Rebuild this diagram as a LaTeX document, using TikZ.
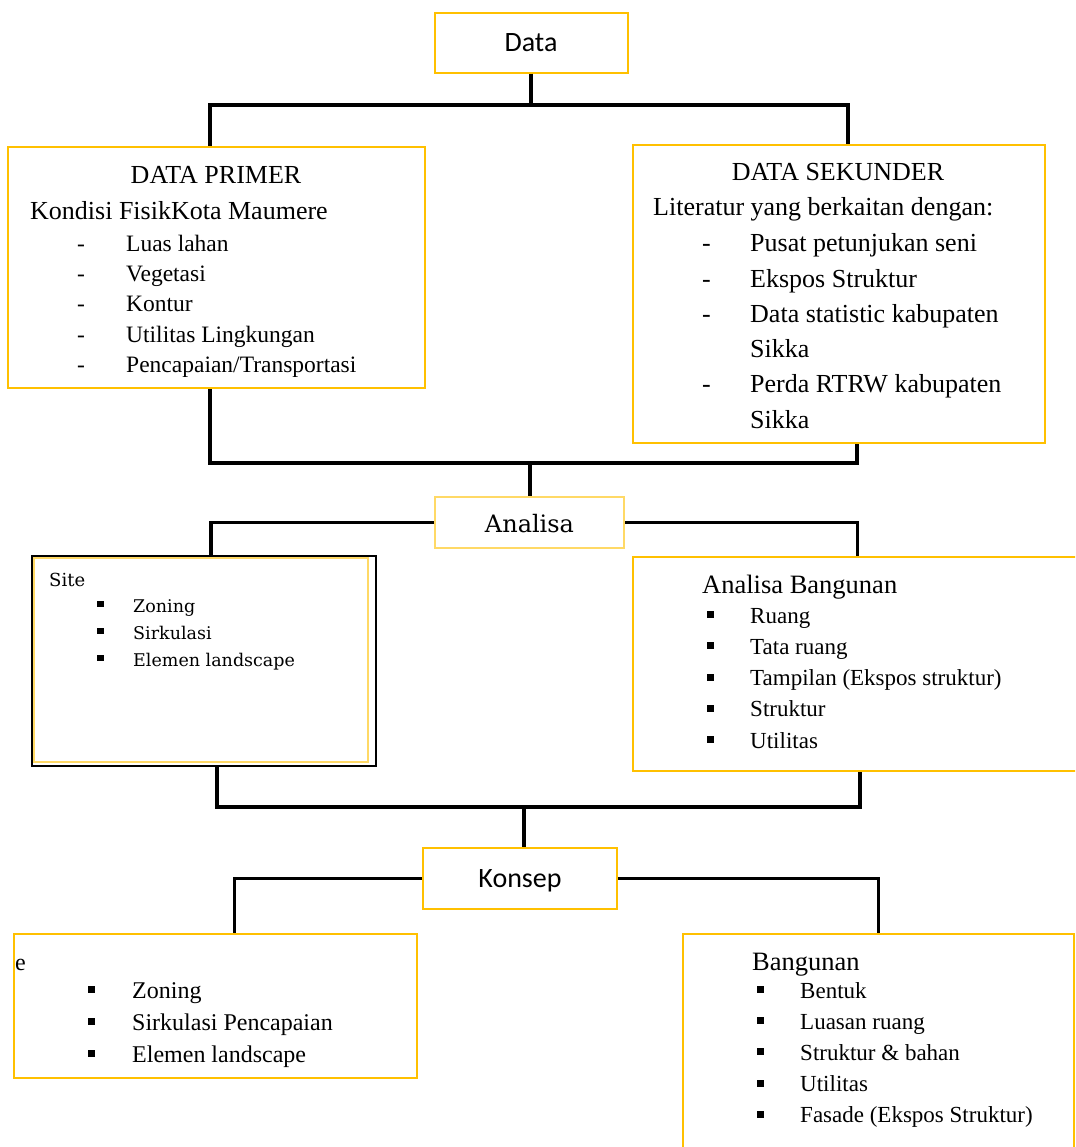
\documentclass[tikz,border=0pt]{standalone}
\usepackage{fontspec}
\setmainfont{Liberation Serif}
\newfontfamily\calib{Carlito}
\newfontfamily\slab{DejaVu Serif}
\usetikzlibrary{positioning}
\definecolor{gold}{HTML}{FFC000}
\definecolor{paleGold}{HTML}{FFD966}
\newcommand{\sqbul}{\rule[5pt]{7pt}{7pt}}

\begin{document}
\begin{tikzpicture}[x=1pt, y=-1pt,
  box/.style={draw=gold, line width=2pt, inner sep=0pt},
  link/.style={line width=3.8pt, line join=miter},
  entry/.style={anchor=base west, inner sep=0pt},
  title/.style={font=\calib\fontsize{28}{32}\selectfont, text height=18pt, text depth=0pt},
  hdr/.style={font=\fontsize{26}{30}\selectfont},
  itm/.style={font=\fontsize{23}{28}\selectfont}
]
\useasboundingbox (0,0) rectangle (1075,1147);
\clip (0,0) rectangle (1075,1147);
\fill[white] (0,0) rectangle (1075,1147);

\node[box, title, minimum width=193pt, minimum height=60pt] (data) at (531,42.7) {Data};
\node[box, minimum width=417pt, minimum height=241pt] (primer) at (216.5,267.5) {};
\node[box, minimum width=412pt, minimum height=298pt] (sekunder) at (839,294) {};
\node[box, draw=paleGold, minimum width=189pt, minimum height=51pt, font=\slab\fontsize{24}{28}\selectfont, text height=19pt, text depth=0pt] (analisa) at (529.5,522.5) {Analisa};
\node[draw=black, line width=2pt, inner sep=0pt, minimum width=344pt, minimum height=210pt] (site) at (204,661) {};
\draw[paleGold, line width=1.5pt] ([shift={(3,3)}]site.north west) rectangle ([shift={(-9,-5)}]site.south east);
\node[box, minimum width=457pt, minimum height=214pt] (anbang) at (861.5,664) {};
\node[box, title, minimum width=194pt, minimum height=61pt] (konsep) at (520,878.5) {Konsep};
\node[box, minimum width=403pt, minimum height=144pt] (ksite) at (215.5,1006) {};
\node[box, minimum width=391pt, minimum height=226pt] (kbang) at (878.5,1047) {};

\coordinate (j1) at (531,105);
\coordinate (j2) at (530,463);
\coordinate (j3) at (524,807);
\draw[link] (data.south) -- (data.south |- j1);
\draw[link] ([xshift=-6.5pt]primer.north) |- (j1) -| ([xshift=9pt]sekunder.north);
\draw[link] ([xshift=-6.5pt]primer.south) |- (j2) -| ([xshift=18pt]sekunder.south);
\draw[link] (j2) -- (j2 |- analisa.north);
\draw[link] (analisa.west) -| ([xshift=7pt]site.north);
\draw[link] (analisa.east) -| ([xshift=-4pt]anbang.north);
\draw[link] ([xshift=13pt]site.south) |- (j3) -| ([xshift=-1.5pt]anbang.south);
\draw[link] (j3) -- (j3 |- konsep.north);
\draw[link] (konsep.west) -| ([xshift=19pt]ksite.north);
\draw[link] (konsep.east) -| (kbang.north);

\node[hdr, anchor=base, inner sep=0pt] (primerT) at (216,184) {DATA PRIMER};
\node[hdr, entry] (primerS) at (30,220) {Kondisi FisikKota Maumere};
\foreach \t [count=\i] in {Luas lahan, Vegetasi, Kontur, Utilitas Lingkungan, Pencapaian/Transportasi}
  \node[entry, font=\fontsize{23.5}{28}\selectfont] (primer\i) at (77,222+30*\i) {\makebox[49pt][l]{-}\t};

\node[hdr, anchor=base, inner sep=0pt] (sekunderT) at (838,181) {DATA SEKUNDER};
\node[hdr, entry] (sekunderS) at (653,216) {Literatur yang berkaitan dengan:};
\foreach \t [count=\i] in {Pusat petunjukan seni, Ekspos Struktur, Data statistic kabupaten, Sikka, Perda RTRW kabupaten, Sikka}
  \node[hdr, entry] (sekunder\i) at (750,216.8+35.2*\i) {\t};
\foreach \i in {1,2,3,5}
  \node[hdr, entry] (sekunderD\i) at (702,216.8+35.2*\i) {-};

\node[entry, font=\slab\fontsize{18}{22}\selectfont] (siteT) at (49,586) {Site};
\foreach \t [count=\i] in {Zoning, Sirkulasi, Elemen landscape}
  \node[entry, font=\slab\fontsize{17.5}{21}\selectfont] (site\i) at (97,585+27*\i) {\makebox[36pt][l]{\rule[5pt]{6.5pt}{6.5pt}}\t};

\node[entry, font=\fontsize{26.5}{30}\selectfont] (anbangT) at (702,593) {Analisa Bangunan};
\foreach \t [count=\i] in {Ruang, Tata ruang, Tampilan (Ekspos struktur), Struktur, Utilitas}
  \node[itm, entry] (anbang\i) at (707,592+31.2*\i) {\makebox[43pt][l]{\sqbul}\t};

\node[entry, font=\fontsize{24}{28}\selectfont] (ksiteT) at (15,970) {e};
\foreach \t [count=\i] in {Zoning, Sirkulasi Pencapaian, Elemen landscape}
  \node[entry, font=\fontsize{24}{28}\selectfont] (ksite\i) at (88,966+32*\i) {\makebox[44pt][l]{\sqbul}\t};

\node[entry, font=\fontsize{26.5}{30}\selectfont] (kbangT) at (752,970) {Bangunan};
\foreach \t [count=\i] in {Bentuk, Luasan ruang, Struktur \& bahan, Utilitas, Fasade (Ekspos Struktur)}
  \node[itm, entry] (kbang\i) at (757,966.8+31.2*\i) {\makebox[43pt][l]{\sqbul}\t};
\end{tikzpicture}
\end{document}
